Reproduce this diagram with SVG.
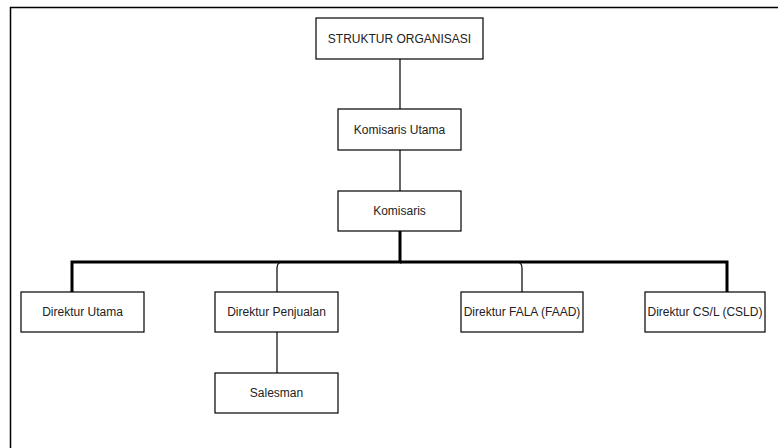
<svg xmlns="http://www.w3.org/2000/svg" width="778" height="448" viewBox="0 0 778 448">
<style>
.box{fill:#fff;stroke:#000;stroke-width:1.2}
.t{font-family:"Liberation Sans",Arial,sans-serif;font-size:12px;fill:#222;text-anchor:middle;dominant-baseline:central}
.thin{fill:none;stroke:#000;stroke-width:1.2}
.thick{fill:none;stroke:#000;stroke-width:3}
</style>
<rect width="778" height="448" fill="#fff"/>
<path d="M10.5 448 V7.5 H778" fill="none" stroke="#000" stroke-width="1.5"/>
<g id="connectors">
<path class="thin" d="M400 59 V109"/>
<path class="thin" d="M400 150 V191"/>
<path class="thin" d="M400 231 V262 H283 Q277 262 277 268 V292"/>
<path class="thin" d="M400 262 H516 Q522 262 522 268 V292"/>
<path class="thick" d="M400 231 V262 H72 V292"/>
<path class="thick" d="M400 262 H727 V292"/>
<path class="thin" d="M277 332 V373"/>
</g>
<g id="struktur"><rect class="box" x="316" y="18" width="167" height="41"/><text class="t" x="399.5" y="39">STRUKTUR ORGANISASI</text></g>
<g id="komisaris-utama"><rect class="box" x="338" y="109" width="123" height="41"/><text class="t" x="399.5" y="130">Komisaris Utama</text></g>
<g id="komisaris"><rect class="box" x="338" y="191" width="123" height="40"/><text class="t" x="399.5" y="211">Komisaris</text></g>
<g id="direktur-utama"><rect class="box" x="21" y="292" width="123" height="40"/><text class="t" x="82.5" y="312">Direktur Utama</text></g>
<g id="direktur-penjualan"><rect class="box" x="215" y="292" width="123" height="40"/><text class="t" x="276.5" y="312">Direktur Penjualan</text></g>
<g id="direktur-fala"><rect class="box" x="461" y="292" width="122" height="40"/><text class="t" x="522" y="312">Direktur FALA (FAAD)</text></g>
<g id="direktur-csl"><rect class="box" x="645" y="292" width="120" height="40"/><text class="t" x="705" y="312">Direktur CS/L (CSLD)</text></g>
<g id="salesman"><rect class="box" x="215" y="373" width="123" height="40"/><text class="t" x="276.5" y="393">Salesman</text></g>
</svg>
